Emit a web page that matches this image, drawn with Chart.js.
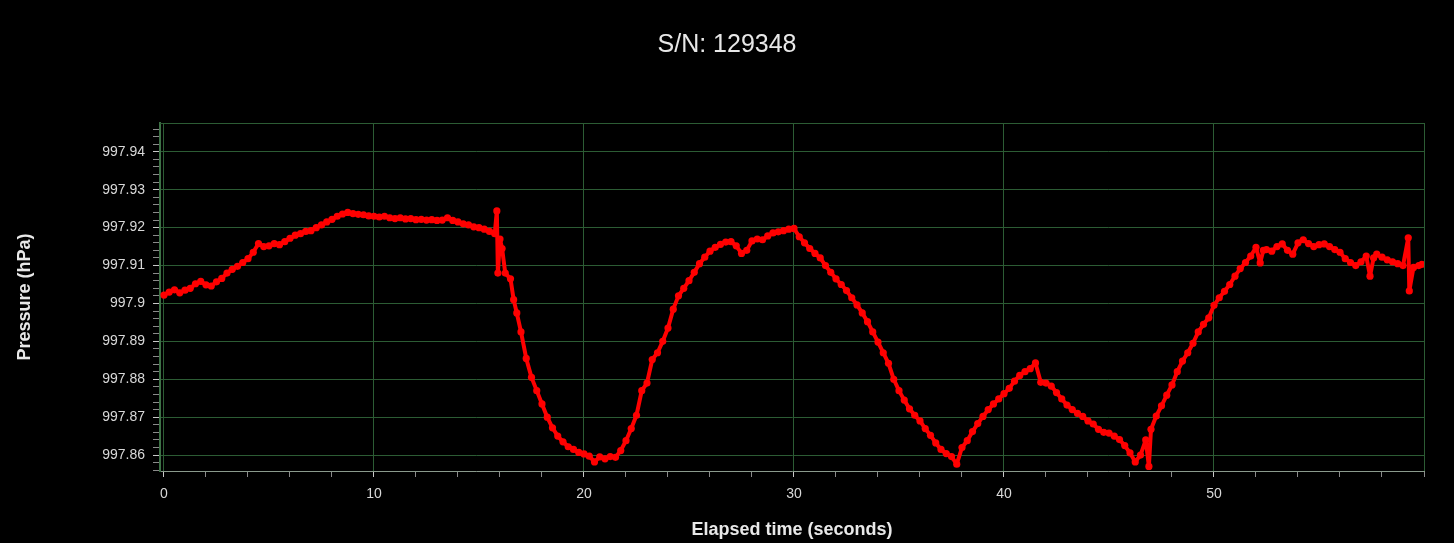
<!DOCTYPE html>
<html>
<head>
<meta charset="utf-8">
<script src="https://cdn.jsdelivr.net/npm/chart.js@4/dist/chart.umd.min.js"></script>
<style>
  html, body { margin: 0; padding: 0; background: #000; }
</style>
</head>
<body>
<canvas id="grafico" width="1454" height="543"></canvas>
<script>
// Tiempo transcurrido (s)
const tiempos = [
  0, 0.25, 0.5, 0.75, 1, 1.25, 1.5, 1.75, 2, 2.25, 2.5, 2.75, 3, 3.25, 3.5, 3.75,
  4, 4.25, 4.5, 4.75, 5, 5.25, 5.5, 5.75, 6, 6.25, 6.5, 6.75, 7, 7.25, 7.5, 7.75,
  8, 8.25, 8.5, 8.75, 9, 9.25, 9.5, 9.75, 10, 10.25, 10.5, 10.75, 11, 11.25, 11.5, 11.75,
  12, 12.25, 12.5, 12.75, 13, 13.25, 13.5, 13.75, 14, 14.25, 14.5, 14.75, 15, 15.25, 15.5, 15.75,
  15.85, 15.9, 16, 16.1, 16.25, 16.5, 16.65, 16.8, 17, 17.25, 17.5, 17.75,
  18, 18.25, 18.5, 18.75, 19, 19.25, 19.5, 19.75, 20, 20.25, 20.5, 20.75, 21, 21.25, 21.5, 21.75,
  22, 22.25, 22.5, 22.75, 23, 23.25, 23.5, 23.75, 24, 24.25, 24.5, 24.75, 25, 25.25, 25.5, 25.75,
  26, 26.25, 26.5, 26.75, 27, 27.25, 27.5, 27.75, 28, 28.25, 28.5, 28.75, 29, 29.25, 29.5, 29.75,
  30, 30.25, 30.5, 30.75, 31, 31.25, 31.5, 31.75, 32, 32.25, 32.5, 32.75, 33, 33.25, 33.5, 33.75,
  34, 34.25, 34.5, 34.75, 35, 35.25, 35.5, 35.75, 36, 36.25, 36.5, 36.75, 37, 37.25, 37.5, 37.75,
  38, 38.25, 38.5, 38.75, 39, 39.25, 39.5, 39.75, 40, 40.25, 40.5, 40.75, 41, 41.25, 41.5, 41.75,
  42, 42.25, 42.5, 42.75, 43, 43.25, 43.5, 43.75, 44, 44.25, 44.5, 44.75, 45, 45.25, 45.5, 45.75,
  46, 46.25, 46.5, 46.75, 46.9, 47, 47.25, 47.5, 47.75,
  48, 48.25, 48.5, 48.75, 49, 49.25, 49.5, 49.75, 50, 50.25, 50.5, 50.75, 51, 51.25, 51.5, 51.75,
  52, 52.2, 52.35, 52.5, 52.75, 53, 53.25, 53.5, 53.75, 54, 54.25, 54.5, 54.75, 55, 55.25, 55.5, 55.75,
  56, 56.25, 56.5, 56.75, 57, 57.25, 57.43, 57.6, 57.75, 58, 58.25, 58.5, 58.75, 59, 59.25, 59.3, 59.5, 59.75, 59.9
];

// Presion (hPa)
const presiones = [
  997.9022, 997.9030, 997.9036, 997.9028, 997.9035, 997.9040, 997.9052, 997.9058, 997.9049, 997.9046, 997.9057, 997.9066, 997.9080, 997.9090, 997.9098, 997.9108,
  997.9118, 997.9135, 997.9158, 997.9150, 997.9152, 997.9158, 997.9155, 997.9163, 997.9172, 997.9180, 997.9184, 997.9190, 997.9192, 997.9200, 997.9207, 997.9215,
  997.9222, 997.9230, 997.9236, 997.9240, 997.9237, 997.9235, 997.9234, 997.9231, 997.9230, 997.9228, 997.9230, 997.9226, 997.9224, 997.9226, 997.9223, 997.9224,
  997.9221, 997.9222, 997.9220, 997.9221, 997.9219, 997.9220, 997.9226, 997.9219, 997.9215, 997.9210, 997.9207, 997.9202, 997.9200, 997.9196, 997.9190, 997.9184,
  997.9244, 997.9080, 997.9170, 997.9145, 997.9080, 997.9065, 997.9010, 997.8975, 997.8925, 997.8855, 997.8805, 997.8770,
  997.8735, 997.8700, 997.8672, 997.8650, 997.8635, 997.8622, 997.8615, 997.8607, 997.8603, 997.8597, 997.8582, 997.8595, 997.8590, 997.8596, 997.8594, 997.8612,
  997.8638, 997.8670, 997.8705, 997.8770, 997.8790, 997.8852, 997.8870, 997.8900, 997.8935, 997.8985, 997.9020, 997.9040, 997.9060, 997.9082, 997.9105, 997.9122,
  997.9138, 997.9148, 997.9156, 997.9162, 997.9163, 997.9152, 997.9132, 997.9140, 997.9165, 997.9170, 997.9168, 997.9178, 997.9186, 997.9189, 997.9192, 997.9196,
  997.9198, 997.9176, 997.9160, 997.9145, 997.9132, 997.9120, 997.9100, 997.9082, 997.9065, 997.9050, 997.9034, 997.9015, 997.8996, 997.8975, 997.8952, 997.8925,
  997.8898, 997.8870, 997.8842, 997.8800, 997.8770, 997.8745, 997.8722, 997.8705, 997.8690, 997.8670, 997.8652, 997.8632, 997.8615, 997.8604, 997.8596, 997.8576,
  997.8620, 997.8638, 997.8662, 997.8683, 997.8702, 997.8720, 997.8735, 997.8748, 997.8762, 997.8776, 997.8795, 997.8810, 997.8820, 997.8828, 997.8843, 997.8792,
  997.8790, 997.8782, 997.8765, 997.8748, 997.8732, 997.8720, 997.8710, 997.8702, 997.8690, 997.8682, 997.8668, 997.8660, 997.8658, 997.8650, 997.8641, 997.8625,
  997.8606, 997.8582, 997.8600, 997.8640, 997.8570, 997.8668, 997.8703, 997.8730, 997.8758,
  997.8785, 997.8820, 997.8848, 997.8870, 997.8895, 997.8925, 997.8945, 997.8962, 997.8995, 997.9015, 997.9032, 997.9050, 997.9072, 997.9092, 997.9108, 997.9125,
  997.9148, 997.9107, 997.9140, 997.9142, 997.9138, 997.9150, 997.9157, 997.9140, 997.9130, 997.9160, 997.9168, 997.9158, 997.9150, 997.9155, 997.9157, 997.9150, 997.9142,
  997.9135, 997.9118, 997.9108, 997.9100, 997.9110, 997.9125, 997.9072, 997.9120, 997.9130, 997.9122, 997.9115, 997.9110, 997.9105, 997.9100, 997.9173, 997.9033, 997.9095, 997.9100, 997.9103
];

// Etiquetas de los ejes
const etiquetasX = [0, 10, 20, 30, 40, 50];
const etiquetasY = [997.86, 997.87, 997.88, 997.89, 997.9, 997.91, 997.92, 997.93, 997.94];

const verde = "#2c5c34";
const fuente = "'Liberation Sans', Arial, sans-serif";

function esEtiquetaY(v){
    return etiquetasY.some(e => Math.abs(e - v) < 1e-6);
}

// Linea superior del area de trazado
const bordePlot = {
    id: "bordePlot",
    beforeDatasetsDraw(chart){
        const {ctx, chartArea: a} = chart;
        ctx.save();
        ctx.strokeStyle = verde;
        ctx.lineWidth = 1;
        ctx.beginPath();
        ctx.moveTo(a.left, a.top + 0.5);
        ctx.lineTo(a.right, a.top + 0.5);
        ctx.stroke();
        ctx.restore();
    }
};

const puntos = tiempos.map((t, i) => ({x: t, y: presiones[i]}));

new Chart(document.getElementById("grafico"), {
    type: "line",
    data: {
        datasets: [{
            label: "S/N: 129348",
            data: puntos,
            borderColor: "#ff0000",
            backgroundColor: "#ff0000",
            borderWidth: 4,
            borderJoinStyle: "round",
            borderCapStyle: "round",
            pointRadius: 3.6,
            pointBorderWidth: 0,
            pointBackgroundColor: "#ff0000",
            tension: 0
        }]
    },
    plugins: [bordePlot],
    options: {
        responsive: false,
        devicePixelRatio: 1,
        animation: false,
        layout: { padding: 0 },
        plugins: {
            legend: { display: false },
            tooltip: { enabled: false },
            title: {
                display: true,
                text: "S/N: 129348",
                color: "#e8e8e8",
                font: { family: fuente, size: 25, weight: "normal" },
                padding: { top: 30, bottom: 63 }
            }
        },
        scales: {
            x: {
                type: "linear",
                min: -0.19,
                max: 60,
                ticks: {
                    stepSize: 2,
                    includeBounds: false,
                    autoSkip: false,
                    maxRotation: 0,
                    color: "#d8d8d8",
                    font: { family: fuente, size: 14 },
                    padding: 9,
                    callback: v => etiquetasX.includes(v) ? String(v) : ""
                },
                grid: {
                    color: c => (c.tick && c.tick.value % 10 === 0) ? verde : "transparent",
                    tickColor: c => (c.tick && etiquetasX.includes(c.tick.value)) ? "#c8c8c8" : "#8a8a8a",
                    tickLength: 6
                },
                border: { color: "#8a9a8c", width: 1 },
                title: {
                    display: true,
                    text: "Elapsed time (seconds)",
                    color: "#e8e8e8",
                    font: { family: fuente, size: 18, weight: "bold" },
                    padding: { top: 0, bottom: 2 }
                },
                afterFit: s => { s.height = 72; }
            },
            y: {
                min: 997.8558,
                max: 997.9476,
                ticks: {
                    stepSize: 0.002,
                    includeBounds: false,
                    autoSkip: false,
                    color: "#d8d8d8",
                    font: { family: fuente, size: 14 },
                    padding: 8,
                    callback: v => esEtiquetaY(v) ? String(parseFloat(v.toFixed(2))) : ""
                },
                grid: {
                    color: c => (c.tick && esEtiquetaY(c.tick.value)) ? verde : "transparent",
                    tickColor: c => (c.tick && esEtiquetaY(c.tick.value)) ? "#c8c8c8" : "#8a8a8a",
                    tickLength: 7
                },
                border: { color: "#3d7046", width: 2 },
                title: {
                    display: true,
                    text: "Pressure (hPa)",
                    color: "#e8e8e8",
                    font: { family: fuente, size: 18, weight: "bold" },
                    padding: { top: 14, bottom: 0 }
                },
                afterFit: s => { s.width = 160; }
            },
            // eje vacio a la derecha, solo reserva el margen
            y2: {
                position: "right",
                display: true,
                grid: { display: false },
                ticks: { display: false },
                border: { display: false },
                afterFit: s => { s.width = 30; }
            }
        }
    }
});
</script>
</body>
</html>
